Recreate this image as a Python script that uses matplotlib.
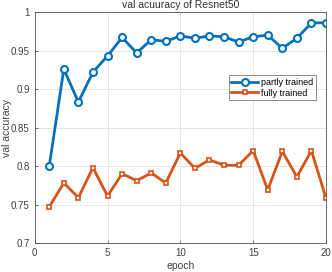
import matplotlib
matplotlib.use("Agg")
import matplotlib.pyplot as plt

epochs = list(range(1, 21))
partly = [0.800, 0.926, 0.883, 0.922, 0.943, 0.967, 0.947, 0.964, 0.962, 0.969,
          0.966, 0.969, 0.968, 0.961, 0.968, 0.970, 0.953, 0.966, 0.986, 0.986]
fully = [0.747, 0.778, 0.759, 0.798, 0.761, 0.790, 0.781, 0.791, 0.778, 0.817,
         0.797, 0.808, 0.801, 0.801, 0.820, 0.769, 0.819, 0.786, 0.820, 0.758]
xticks = [0, 5, 10, 15, 20]
yticks = [0.7, 0.75, 0.8, 0.85, 0.9, 0.95, 1.0]
yticklabels = ["0.7", "0.75", "0.8", "0.85", "0.9", "0.95", "1"]

plt.rcParams['font.family'] = ['Liberation Sans', 'DejaVu Sans']
fig = plt.figure(figsize=(3.32, 2.72), dpi=100)
ax = fig.add_axes([0.1045, 0.1066, 0.8775, 0.849])

blue = '#0072BD'
orange = '#D95319'
ax.plot(epochs, partly, '-o', color=blue, lw=2, markersize=5, markerfacecolor='white',
        markeredgewidth=1.5, label='partly trained')
ax.plot(epochs, fully, '-s', color=orange, lw=2, markersize=3.5, markerfacecolor='white',
        markeredgewidth=1.2, label='fully trained')

ax.set_xlim(0, 20)
ax.set_ylim(0.7, 1.0)
ax.set_xticks(xticks)
ax.set_yticks(yticks)
ax.set_yticklabels(yticklabels)
ax.grid(True, color='#e6e6e6', lw=0.7)
ax.set_axisbelow(True)
for s in ax.spines.values():
    s.set_color('#555555')
    s.set_linewidth(0.6)
ax.tick_params(labelsize=7, colors='#404040', length=2, width=0.5, direction='in')
ax.set_xlabel('epoch', fontsize=7.5, color='#404040', labelpad=2)
ax.set_ylabel('val accuracy', fontsize=7.5, color='#404040')
ax.yaxis.set_label_coords(-0.078, 0.5)
ax.set_title('val acuuracy of Resnet50', fontsize=7.5, color='#303030', pad=3)
leg = ax.legend(loc='upper right', bbox_to_anchor=(0.966, 0.727), fontsize=6.5,
                frameon=True, fancybox=False, edgecolor='#555555', borderpad=0.3,
                handlelength=3, labelspacing=0.2, borderaxespad=0, handletextpad=0.3)
leg.get_frame().set_linewidth(0.6)

fig.savefig('out.png', dpi=100)
